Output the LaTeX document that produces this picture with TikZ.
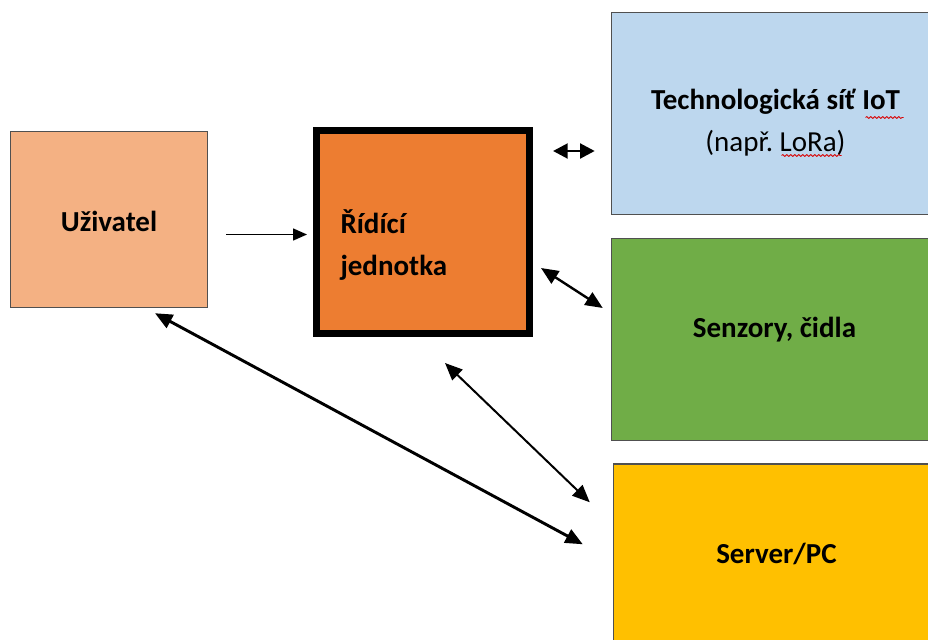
\documentclass[tikz,border=0pt]{standalone}
\usepackage{fontspec}
\setmainfont{Carlito}
\usetikzlibrary{arrows.meta,calc,decorations.pathmorphing}

\definecolor{uzivfill}{RGB}{244,177,131}
\definecolor{ridicifill}{RGB}{237,125,49}
\definecolor{techfill}{RGB}{189,215,238}
\definecolor{senzfill}{RGB}{112,173,71}
\definecolor{serverfill}{RGB}{255,192,0}
\definecolor{okraj}{RGB}{80,80,80}

\tikzset{every picture/.style={line width=0.75pt}}
\tikzset{
  box/.style={draw=okraj, line width=1.1pt, inner sep=0pt, rectangle},
  popis/.style={inner sep=0pt, font=\fontsize{21.75}{31.5}\selectfont\bfseries},
  sipka/.style={-{Triangle[length=10.5pt,width=9pt]}, line width=1.1pt},
  obousmer/.style={{Triangle[length=13pt,width=11pt]}-{Triangle[length=13pt,width=11pt]}, line width=#1},
  kratka/.style={{Triangle[length=11pt,width=11pt]}-{Triangle[length=11pt,width=11pt]}, line width=2.2pt},
  vlnka/.style={draw=red!85!black, line width=0.6pt, decorate, decoration={snake, amplitude=0.7pt, segment length=3pt}}
}

\begin{document}
\begin{tikzpicture}[x=0.75pt,y=0.75pt,yscale=-1,xscale=1]
	\clip (0,0) rectangle (928,639);
	\fill[white] (0,0) rectangle (928,639);

	%Shape: Rectangle [uziv]
	\node[box, fill=uzivfill, minimum width=147.75pt, minimum height=132pt] (uziv) at (109,219.5) {};
	%Shape: Rectangle [ridici]
	\node[box, draw=black, line width=5.25pt, fill=ridicifill, minimum width=159.75pt, minimum height=152.25pt] (ridici) at (423,232) {};
	%Shape: Rectangle [tech]
	\node[box, fill=techfill, minimum width=246pt, minimum height=151.5pt] (tech) at (775.5,113.5) {};
	%Shape: Rectangle [senz]
	\node[box, fill=senzfill, minimum width=246pt, minimum height=151.5pt] (senz) at (775.5,339.5) {};
	%Shape: Rectangle [server]
	\node[box, fill=serverfill, minimum width=244.5pt, minimum height=151.5pt] (server) at (776.5,565) {};

	% Text Node
	\node[popis] (uzivtext) at ($(uziv.center)+(0,1.5)$) {Uživatel};
	% Text Node
	\node[popis, align=left, anchor=west] (riditext) at ($(ridici.west)+(27,13)$) {Řídící\\jednotka};
	% Text Node
	\node[popis, align=center] (techtext) at ($(tech.center)+(0,9)$) {Technologická síť IoT\\{\mdseries (např.\ LoRa)}};
	% Text Node
	\node[popis] (senztext) at ($(senz.center)+(-1,-9.5)$) {Senzory, čidla};
	% Text Node
	\node[popis] (servertext) at ($(server.center)+(0,-11)$) {Server/PC};

	%Wavy lines under IoT and LoRa
	\draw[vlnka] ($(tech.center)+(90,4)$) -- ($(tech.center)+(128,4)$);
	\draw[vlnka] ($(tech.center)+(6,42)$) -- ($(tech.center)+(66,42)$);

	%Straight Lines [uziv -> ridici]
	\draw[sipka] ($(uziv.east)+(18,15)$) -- ($(ridici.west)+(-6,2.5)$);
	%Straight Lines [ridici <-> tech]
	\draw[kratka] ($(ridici.north east)+(20,24)$) -- ($(tech.west)+(-16,37.5)$);
	%Straight Lines [ridici <-> senz]
	\draw[obousmer=1.8pt] ($(ridici.east)+(8,36)$) -- ($(senz.west)+(-8,-31.5)$);
	%Straight Lines [ridici <-> server]
	\draw[obousmer=1.5pt] ($(ridici.south)+(22,26)$) -- ($(server.north west)+(-23,39)$);
	%Straight Lines [uziv <-> server]
	\draw[obousmer=2.2pt] ($(uziv.south)+(46,5)$) -- ($(server.north west)+(-30,81)$);

\end{tikzpicture}
\end{document}
